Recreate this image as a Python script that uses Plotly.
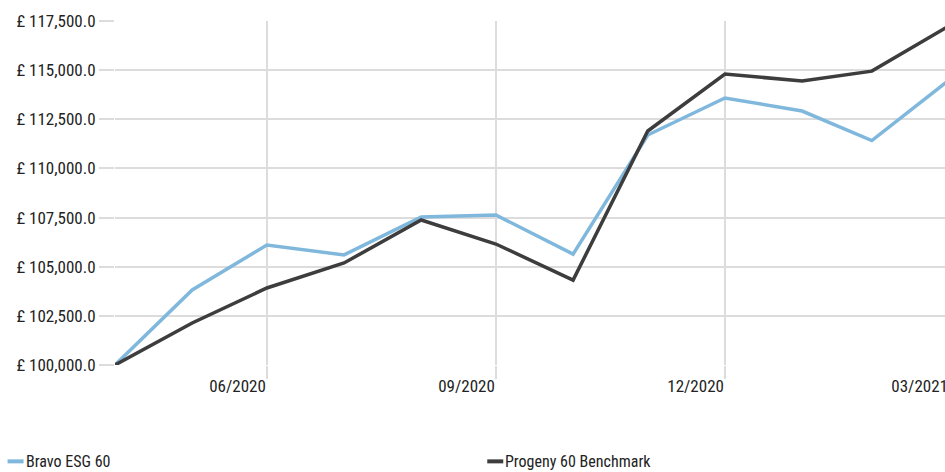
import plotly.graph_objects as go

dates = ["2020-04-30", "2020-05-31", "2020-06-30", "2020-07-31", "2020-08-31", "2020-09-30",
         "2020-10-31", "2020-11-30", "2020-12-31", "2021-01-31", "2021-02-28", "2021-03-31"]
bravo = [100000, 103815, 106105, 105600, 107530, 107630,
         105640, 111700, 113585, 112920, 111420, 114490]
progeny = [100000, 102137, 103917, 105190, 107377, 106155,
           104320, 111905, 114800, 114450, 114950, 117250]
series_names = ["Bravo ESG 60", "Progeny 60 Benchmark"]
series_colors = ["#7fb8dc", "#3d3d3d"]
tick_dates = ["2020-06-30", "2020-09-30", "2020-12-31", "2021-03-31"]
tick_months = ["06/2020", "09/2020", "12/2020", "03/2021"]
y_ticks = [100000, 102500, 105000, 107500, 110000, 112500, 115000, 117500]
y_labels = ["£ " + f"{v:,.1f}" for v in y_ticks]

FONT = "Liberation Sans Narrow, Roboto Condensed, Roboto, sans-serif"

fig = go.Figure()
for name, vals, col in zip(series_names, [bravo, progeny], series_colors):
    fig.add_trace(go.Scatter(x=dates, y=vals, mode="lines", name=name,
                             line=dict(color=col, width=3.5), showlegend=False))

fig.update_xaxes(type="date", range=[dates[0], dates[-1]],
                 tickvals=tick_dates, ticktext=tick_months,
                 showgrid=True, gridcolor="#dcdcdc", gridwidth=2,
                 ticks="outside", ticklen=13, tickcolor="#dcdcdc", tickwidth=2,
                 ticklabelposition="outside left", ticklabelstandoff=6,
                 zeroline=False, showline=False,
                 tickfont=dict(family=FONT, size=17, color="#222"))
fig.update_yaxes(range=[100000, 117500], tickvals=y_ticks, ticktext=y_labels,
                 showgrid=True, gridcolor="#dcdcdc", gridwidth=2,
                 ticks="outside", ticklen=15, tickcolor="#dcdcdc", tickwidth=2,
                 zeroline=False, showline=False,
                 tickfont=dict(family=FONT, size=17, color="#222"))

# legend drawn as swatches + text below the plot
FIG_W, FIG_H = 949, 472
plot_l, plot_r, plot_t, plot_b = 114.5, 949, 21, 365.5
W, H = plot_r - plot_l, plot_b - plot_t
legend_pos = [7, 487]
ly = (plot_b - 462) / H
for name, col, px in zip(series_names, series_colors, legend_pos):
    fig.add_shape(type="line", xref="paper", yref="paper",
                  x0=(px - plot_l) / W, x1=(px + 16 - plot_l) / W, y0=ly, y1=ly,
                  line=dict(color=col, width=4))
    fig.add_annotation(xref="paper", yref="paper", x=(px + 16 - plot_l) / W, y=ly,
                       text=name, showarrow=False, xanchor="left", yanchor="middle",
                       font=dict(family=FONT, size=16, color="#222"))

fig.update_layout(width=FIG_W, height=FIG_H, plot_bgcolor="white", paper_bgcolor="white",
                  margin=dict(l=plot_l, r=FIG_W - plot_r, t=plot_t, b=FIG_H - plot_b),
                  font=dict(family=FONT))
fig.write_html("out.html", config={"displayModeBar": False},
               post_script="document.body.style.margin='0';document.body.style.overflow='hidden';")
